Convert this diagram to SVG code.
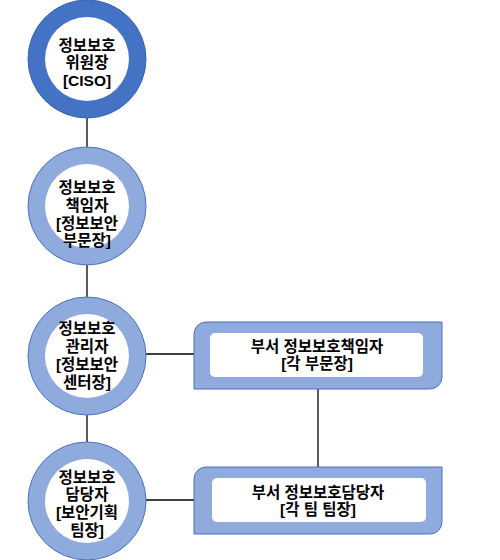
<svg xmlns="http://www.w3.org/2000/svg" width="500" height="560" viewBox="0 0 500 560">
<style>
.ring1{fill:#4472C4;stroke:#3A63AD;stroke-width:1}
.ring{fill:#8FAADC;stroke:#4A72BF;stroke-width:1}
.hole{fill:#FFFFFF}
.box{fill:#8FAADC;stroke:#4A72BF;stroke-width:1}
.inner{fill:#FFFFFF}
.t{font-family:"Liberation Sans","Noto Sans CJK KR",sans-serif;font-weight:bold;font-size:15.5px;fill:#000;text-anchor:middle}
.c{stroke:#000;stroke-width:1.3;fill:none}
</style>
<g id="connectors">
<line class="c" x1="87" y1="118" x2="87" y2="148"/>
<line class="c" x1="87" y1="265" x2="87" y2="297"/>
<line class="c" x1="87" y1="415" x2="87" y2="443"/>
<line class="c" x1="146" y1="354" x2="194" y2="354"/>
<line class="c" x1="146" y1="500" x2="194" y2="500"/>
<line class="c" x1="318" y1="389" x2="318" y2="467"/>
</g>
<g id="ciso">
<circle class="ring1" cx="87" cy="59" r="59"/>
<circle class="hole" cx="87" cy="59" r="42"/>
<text class="t" x="87" y="51">정보보호</text>
<text class="t" x="87" y="68">위원장</text>
<text class="t" x="87" y="86">[CISO]</text>
</g>
<g id="officer">
<circle class="ring" cx="87" cy="206" r="59"/>
<circle class="hole" cx="87" cy="206" r="42"/>
<text class="t" x="87" y="193">정보보호</text>
<text class="t" x="87" y="211">책임자</text>
<text class="t" x="87" y="229">[정보보안</text>
<text class="t" x="87" y="246">부문장]</text>
</g>
<g id="manager">
<circle class="ring" cx="87" cy="356" r="59"/>
<circle class="hole" cx="87" cy="356" r="42"/>
<text class="t" x="87" y="334">정보보호</text>
<text class="t" x="87" y="352">관리자</text>
<text class="t" x="87" y="370">[정보보안</text>
<text class="t" x="87" y="388">센터장]</text>
</g>
<g id="staff">
<circle class="ring" cx="87" cy="501" r="59"/>
<circle class="hole" cx="87" cy="501" r="42"/>
<text class="t" x="87" y="483">정보보호</text>
<text class="t" x="87" y="500">담당자</text>
<text class="t" x="87" y="518">[보안기획</text>
<text class="t" x="87" y="536">팀장]</text>
</g>
<g id="dept-officer">
<path class="box" d="M206,322 H442 V377 A12,12 0 0 1 430,389 H194 V334 A12,12 0 0 1 206,322 Z"/>
<rect class="inner" x="210" y="333" width="213" height="44" rx="5"/>
<text class="t" x="317" y="352">부서 정보보호책임자</text>
<text class="t" x="317" y="369">[각 부문장]</text>
</g>
<g id="dept-staff">
<path class="box" d="M206,467 H442 V522 A12,12 0 0 1 430,534 H194 V479 A12,12 0 0 1 206,467 Z"/>
<rect class="inner" x="212" y="478" width="214" height="44" rx="5"/>
<text class="t" x="318" y="498">부서 정보보호담당자</text>
<text class="t" x="318" y="515">[각 팀 팀장]</text>
</g>
</svg>
